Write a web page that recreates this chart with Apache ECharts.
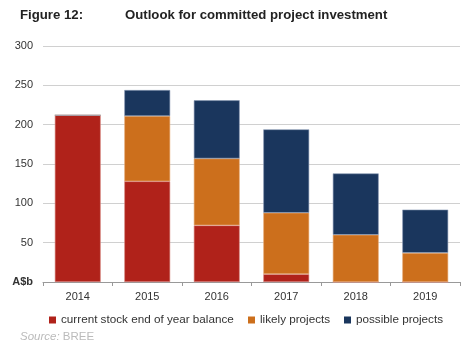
<!DOCTYPE html>
<html><head><meta charset="utf-8">
<script src="https://cdn.jsdelivr.net/npm/echarts@6/dist/echarts.min.js"></script>
<style>html,body{margin:0;padding:0;background:#fff}#c{width:466px;height:350px}</style>
</head><body><div id="c"></div>
<script>
const categories = ['2014','2015','2016','2017','2018','2019'];
const currentStock = [212, 128, 72, 10, 0, 0];
const likelyProjects = [0, 83, 85, 78, 60, 37];
const possibleProjects = [0, 33, 74, 106, 78, 55];
const seriesNames = ['current stock end of year balance','likely projects','possible projects'];
const yTicks = [0, 50, 100, 150, 200, 250, 300];

const chart = echarts.init(document.getElementById('c'), null, {renderer:'canvas'});
const font = 'Liberation Sans, Arial, sans-serif';
const colors = ['#B0221A','#CC6F1C','#1A365D'];
const borders = ['#d98a85','#e8ad7a','#8a9bb5'];
function mk(i, data){
  return {name: seriesNames[i], type:'bar', stack:'a', data: data, barWidth:'66%',
    itemStyle:{color:colors[i], borderColor:borders[i], borderWidth:0.6},
    emphasis:{disabled:true}};
}
const legendLefts = [49, 248, 344];
function lg(i){
  return {left:legendLefts[i], top:314, padding:0, itemWidth:7, itemHeight:7, icon:'rect',
    itemStyle:{borderWidth:0}, selectedMode:false,
    textStyle:{fontSize:11.7, color:'#333', fontFamily:font},
    data:[seriesNames[i]]};
}
chart.setOption({
  animation:false,
  textStyle:{fontFamily:font},
  graphic:[
    {type:'text', left:20, top:9, style:{text:'Figure 12:', font:'bold 13.2px '+font, fill:'#222'}},
    {type:'text', left:125, top:9, style:{text:'Outlook for committed project investment', font:'bold 13.2px '+font, fill:'#222'}},
    {type:'text', left:20, top:331, style:{text:'{i|Source:} BREE', font:'11.5px '+font, fill:'#bbb',
      rich:{i:{fontStyle:'italic', fontSize:11.5, fontFamily:font, fill:'#bbb', color:'#bbb'}}}}
  ],
  legend:[lg(0), lg(1), lg(2)],
  grid:{left:43, right:6, top:46, bottom:68},
  xAxis:{type:'category', data:categories,
    axisLine:{lineStyle:{color:'#999', width:1}},
    axisTick:{show:true, lineStyle:{color:'#999'}, length:4},
    axisLabel:{color:'#333', fontSize:11, margin:9, fontFamily:font}},
  yAxis:{type:'value', min:0, max:300, interval:50,
    axisLine:{show:false}, axisTick:{show:false},
    splitLine:{lineStyle:{color:'#d0d0d0', width:1}},
    axisLabel:{color:'#333', fontSize:11, margin:10, fontFamily:font,
      formatter: v => v === 0 ? '{b|A$b}' : String(v),
      rich:{b:{fontWeight:'bold', fontSize:11, color:'#333', fontFamily:font}}}},
  series:[mk(0,currentStock), mk(1,likelyProjects), mk(2,possibleProjects)]
});
</script></body></html>
